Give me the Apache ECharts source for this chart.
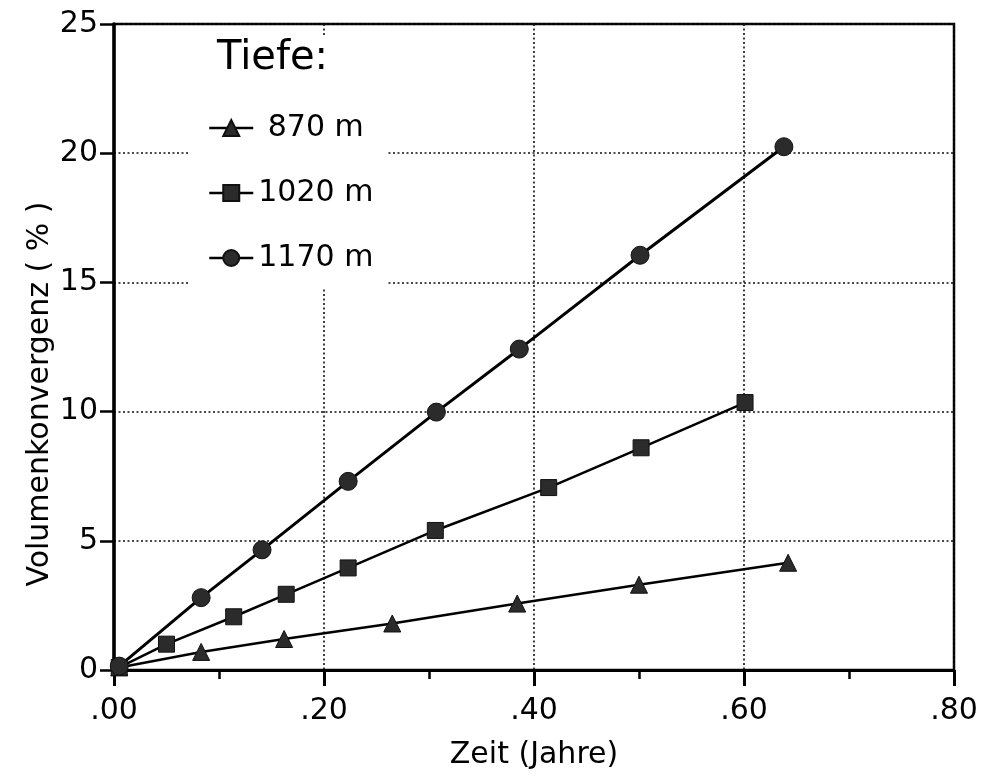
<!DOCTYPE html>
<html>
<head>
<meta charset="utf-8">
<script src="https://cdn.jsdelivr.net/npm/echarts@6/dist/echarts.min.js"></script>
<style>
html,body{margin:0;padding:0;background:#fff;}
#chart{width:984px;height:783px;}
</style>
</head>
<body>
<div id="chart"></div>
<script>
// ---- data ----
const seriesNames = ['870 m', '1020 m', '1170 m'];
const x870  = [0.005, 0.083, 0.162, 0.265, 0.384, 0.500, 0.642];
const y870  = [0.10, 0.70, 1.20, 1.80, 2.57, 3.30, 4.15];
const x1020 = [0.005, 0.050, 0.114, 0.164, 0.223, 0.306, 0.414, 0.502, 0.601];
const y1020 = [0.10, 1.00, 2.06, 2.93, 3.95, 5.40, 7.06, 8.60, 10.35];
const x1170 = [0.005, 0.083, 0.141, 0.223, 0.307, 0.386, 0.501, 0.638];
const y1170 = [0.15, 2.80, 4.65, 7.30, 9.98, 12.42, 16.05, 20.25];
const xTickLabels = ['.00', '.20', '.40', '.60', '.80'];
const yTickLabels = ['0', '5', '10', '15', '20', '25'];
const legendTitle = 'Tiefe:';
const xName = 'Zeit (Jahre)';
const yName = 'Volumenkonvergenz ( % )';

const pairs = (xs, ys) => xs.map((x, i) => [x, ys[i]]);
const FONT = 'DejaVu Sans';
const markerColor = '#2b2b2b';

const chart = echarts.init(document.getElementById('chart'), null, {renderer: 'canvas'});

function mkSeries(name, data, symbol, size, width) {
  return {
    name: name, type: 'line', data: data,
    symbol: symbol, symbolSize: size,
    showSymbol: true,
    itemStyle: {color: markerColor, borderColor: '#111', borderWidth: 1, opacity: 1},
    lineStyle: {color: '#000', width: width},
    animation: false, z: 3
  };
}

chart.setOption({
  backgroundColor: '#fff',
  animation: false,
  grid: {left: 114, right: 30, top: 24, bottom: 113, show: true, borderColor: '#000', borderWidth: 2.5, backgroundColor: 'transparent'},
  xAxis: {
    type: 'value', min: 0, max: 0.8, interval: 0.2,
    axisLine: {show: true, lineStyle: {color: '#000', width: 3}},
    axisTick: {show: true, inside: false, length: 16, lineStyle: {color: '#000', width: 3}},
    minorTick: {show: true, splitNumber: 2, length: 9, lineStyle: {color: '#000', width: 2.5}},
    splitLine: {show: true, lineStyle: {color: '#111', width: 1.6, type: [2, 2.5]}},
    axisLabel: {fontFamily: FONT, fontSize: 30, color: '#000', margin: 26,
      formatter: (v, i) => xTickLabels[Math.round(v / 0.2)]},
    name: xName, nameLocation: 'middle', nameGap: 70,
    nameTextStyle: {fontFamily: FONT, fontSize: 30, color: '#000'}
  },
  yAxis: {
    type: 'value', min: 0, max: 25, interval: 5,
    axisLine: {show: true, lineStyle: {color: '#000', width: 3.5}},
    axisTick: {show: true, inside: false, length: 14, lineStyle: {color: '#000', width: 2.5}},
    splitLine: {show: true, lineStyle: {color: '#111', width: 1.6, type: [2, 2.5]}},
    axisLabel: {fontFamily: FONT, fontSize: 30, color: '#000', margin: 16,
      formatter: (v) => yTickLabels[Math.round(v / 5)]}
  },
  legend: {
    orient: 'vertical', left: 203, top: 108,
    itemWidth: 44, itemHeight: 20, itemGap: 35,
    data: seriesNames,
    formatter: (n) => (n.length < 6 ? ' ' + n : n),
    lineStyle: {width: 2.5, color: '#000'},
    textStyle: {fontFamily: FONT, fontSize: 30, color: '#000', lineHeight: 30},
    z: 6
  },
  graphic: [
    {type: 'rect', z: 1, left: 190, top: 37, shape: {width: 198, height: 250}, style: {fill: '#fff'}},
    {type: 'text', z: 6, x: 217, y: 59, style: {text: legendTitle, fontFamily: FONT, fontSize: 40, fill: '#000', verticalAlign: 'middle', align: 'left'}},
    {type: 'text', z: 6, x: 40, y: 394, rotation: Math.PI / 2, style: {text: yName, fontFamily: FONT, fontSize: 30, fill: '#000', align: 'center', verticalAlign: 'middle'}}
  ],
  series: [
    mkSeries(seriesNames[0], pairs(x870, y870), 'triangle', 17, 2.5),
    mkSeries(seriesNames[1], pairs(x1020, y1020), 'rect', 16, 2.5),
    mkSeries(seriesNames[2], pairs(x1170, y1170), 'circle', 18, 3)
  ]
});
</script>
</body>
</html>
